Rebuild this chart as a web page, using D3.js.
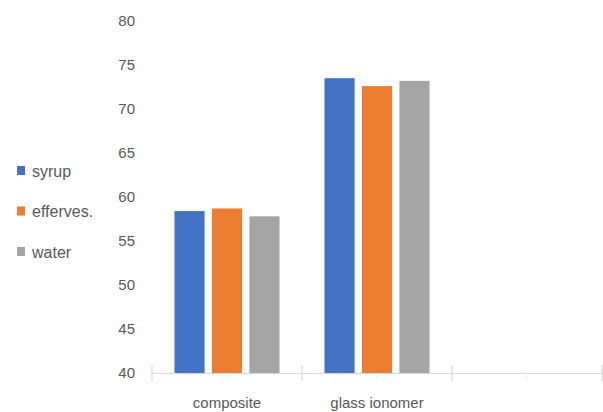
<!DOCTYPE html>
<html>
<head>
<meta charset="utf-8">
<script src="https://cdn.jsdelivr.net/npm/d3@7"></script>
<style>
	body { margin: 0; background: #fff; }
	text { font-family: "Liberation Sans", Arial, sans-serif; fill: #595959; }
</style>
</head>
<body>
<svg id="barchart"></svg>
<script>
let categories = ["composite", "glass ionomer", ""];
let seriesNames = ["syrup", "efferves.", "water"];
let syrup = [58.4, 73.5, null];
let efferves = [58.7, 72.6, null];
let water = [57.8, 73.2, null];
let yTicks = [40, 45, 50, 55, 60, 65, 70, 75, 80];
let colors = ["#4472C4", "#ED7D31", "#A5A5A5"];

function makeChart() {
	let w = 603;
	let h = 412;
	let marginT = 21;
	let marginL = 152;
	let marginR = 1;
	let marginB = 39;

	let series = [syrup, efferves, water];

	let chart = d3.select('#barchart')
		.attr('width', w)
		.attr('height', h);

	let xScale = d3.scaleBand()
		.domain(categories)
		.range([marginL, w - marginR])
		.padding(0);

	let xInner = d3.scaleBand()
		.domain(seriesNames)
		.range([0, xScale.bandwidth()])
		.paddingInner(0.196)
		.paddingOuter(0.6);

	let yScale = d3.scaleLinear()
		.domain([40, 80])
		.range([h - marginB, marginT]);

	//y labels, no axis line
	chart.append('g')
		.selectAll('text')
		.data(yTicks)
		.enter()
		.append('text')
		.attr('x', 135)
		.attr('y', d => yScale(d))
		.attr('dy', '0.35em')
		.style('text-anchor', 'end')
		.style('font-size', '15px')
		.text(d => d);

	//bars
	let groups = chart.selectAll('.grp')
		.data(categories)
		.enter()
		.append('g')
		.attr('class', 'grp')
		.attr('transform', d => `translate(${xScale(d)}, 0)`);

	groups.selectAll('rect')
		.data((d, i) => seriesNames.map((s, j) => ({ s: s, v: series[j][i], c: colors[j] })))
		.enter()
		.filter(d => d.v != null)
		.append('rect')
		.attr('x', d => xInner(d.s))
		.attr('width', xInner.bandwidth())
		.attr('y', d => yScale(d.v))
		.attr('height', d => yScale(40) - yScale(d.v))
		.style('fill', d => d.c);

	//x axis
	let xAxis = d3.axisBottom(xScale).tickSize(0).tickFormat(d => d);
	let ax = chart.append('g')
		.attr('transform', `translate(0, ${h - marginB})`)
		.call(xAxis);
	ax.select('.domain').attr('stroke', '#d9d9d9').attr('stroke-width', 1.2);
	ax.selectAll('.tick text')
		.attr('y', 24)
		.style('font-size', '15px')
		.style('font-family', '"Liberation Sans", Arial, sans-serif')
		.attr('fill', '#595959');

	//boundary ticks
	let bounds = categories.map(d => xScale(d)).concat([xScale.range()[1]]);
	ax.selectAll('.bound')
		.data(bounds)
		.enter()
		.append('line')
		.attr('x1', d => d)
		.attr('x2', d => d)
		.attr('y1', -8)
		.attr('y2', 8)
		.attr('stroke', '#d9d9d9')
		.attr('stroke-width', 1.2);

	//faint mid ticks
	ax.selectAll('.mid')
		.data(categories)
		.enter()
		.append('line')
		.attr('x1', d => xScale(d) + xScale.bandwidth() / 2)
		.attr('x2', d => xScale(d) + xScale.bandwidth() / 2)
		.attr('y1', 0)
		.attr('y2', 6)
		.attr('stroke', '#eeeeee');

	//legend
	let legend = chart.append('g')
		.selectAll('g')
		.data(seriesNames)
		.enter()
		.append('g')
		.attr('transform', (d, i) => `translate(17, ${171 + i * 40.5})`);

	legend.append('rect')
		.attr('x', 0)
		.attr('y', -5)
		.attr('width', 8)
		.attr('height', 9)
		.style('fill', (d, i) => colors[i]);

	legend.append('text')
		.attr('x', 15)
		.attr('y', 0)
		.attr('dy', '0.35em')
		.style('font-size', '16px')
		.text(d => d);
}

makeChart();
</script>
</body>
</html>
